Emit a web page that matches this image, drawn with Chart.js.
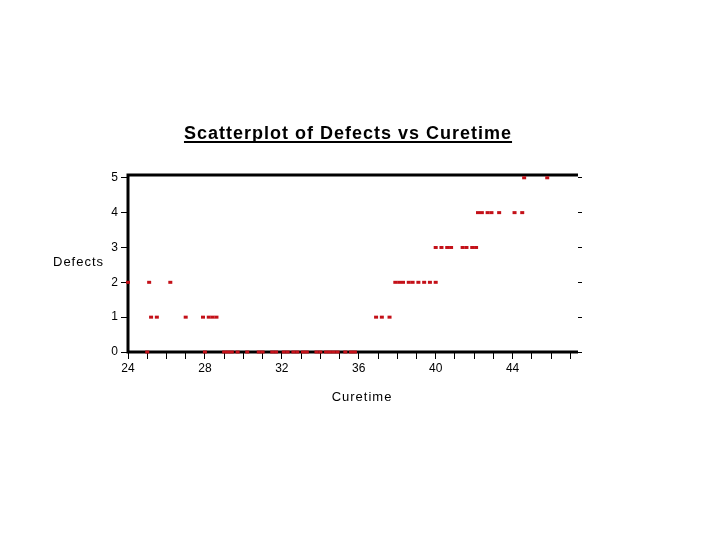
<!DOCTYPE html>
<html>
<head>
<meta charset="utf-8">
<script src="https://cdn.jsdelivr.net/npm/chart.js@4/dist/chart.umd.min.js"></script>
<style>
  html, body { margin: 0; padding: 0; background: #fff; }
</style>
</head>
<body>
<canvas id="scatter" width="720" height="540"></canvas>
<script>
// Cure time (x) and number of defects (y)
const curetime = [
    25.0, 28.0, 29.0, 29.2, 29.4, 29.7, 30.2, 30.8, 31.0, 31.5, 31.7, 32.1, 32.3,
    32.6, 32.8, 33.1, 33.3, 33.8, 34.0, 34.3, 34.5, 34.7, 34.9, 35.3, 35.6, 35.8,
    25.2, 25.5, 27.0, 27.9, 28.2, 28.4, 28.6, 36.9, 37.2, 37.6,
    24.0, 25.1, 26.2, 37.9, 38.1, 38.3, 38.6, 38.8, 39.1, 39.4, 39.7, 40.0,
    40.0, 40.3, 40.6, 40.8, 41.4, 41.6, 41.9, 42.1,
    42.2, 42.4, 42.7, 42.9, 43.3, 44.1, 44.5,
    44.6, 45.8
];
const defects = [
    0, 0, 0, 0, 0, 0, 0, 0, 0, 0, 0, 0, 0,
    0, 0, 0, 0, 0, 0, 0, 0, 0, 0, 0, 0, 0,
    1, 1, 1, 1, 1, 1, 1, 1, 1, 1,
    2, 2, 2, 2, 2, 2, 2, 2, 2, 2, 2, 2,
    3, 3, 3, 3, 3, 3, 3, 3,
    4, 4, 4, 4, 4, 4, 4,
    5, 5
];

const xTickMarks = [24, 25, 26, 27, 28, 29, 30, 31, 32, 33, 34, 35, 36, 37, 38, 39, 40, 41, 42, 43, 44, 45, 46, 47];
const xTickLabels = [24, 28, 32, 36, 40, 44];
const yTickLabels = [0, 1, 2, 3, 4, 5];

const chartTitle = 'Scatterplot of Defects vs Curetime';
const yLabel = 'Defects';
const xLabel = 'Curetime';

const tickFont = { family: '"Liberation Sans", Arial, sans-serif', size: 12 };

// Frame around the plot, drawn before the points so the red marks sit on top
const framePlugin = {
    id: 'frame',
    beforeDatasetsDraw(chart) {
        const { ctx, chartArea: a } = chart;
        ctx.save();
        ctx.strokeStyle = '#000';
        ctx.lineWidth = 3;
        ctx.beginPath();
        ctx.moveTo(a.right, a.top);
        ctx.lineTo(a.left, a.top);
        ctx.lineTo(a.left, a.bottom);
        ctx.lineTo(a.right, a.bottom);
        ctx.stroke();
        ctx.restore();
    }
};

// Underlined title plus the two axis labels
const labelsPlugin = {
    id: 'labels',
    afterDraw(chart) {
        const { ctx } = chart;
        ctx.save();
        ctx.fillStyle = '#000';
        ctx.font = 'bold 18px "Liberation Sans", Arial, sans-serif';
        ctx.letterSpacing = '1px';
        ctx.textAlign = 'center';
        ctx.textBaseline = 'alphabetic';
        const cx = 348;
        ctx.fillText(chartTitle, cx, 139);
        const w = ctx.measureText(chartTitle).width;
        ctx.fillRect(cx - w / 2, 141, w, 2);

        ctx.font = '13px "Liberation Sans", Arial, sans-serif';
        ctx.textBaseline = 'middle';
        ctx.fillText(xLabel, 362, 397);
        ctx.textAlign = 'left';
        ctx.fillText(yLabel, 53, 262);
        ctx.restore();
    }
};

const gridOpts = {
    drawOnChartArea: false,
    drawTicks: true,
    tickLength: 7,
    tickColor: '#000',
    tickWidth: 1
};

const ctx = document.getElementById('scatter').getContext('2d');
new Chart(ctx, {
    type: 'scatter',
    data: {
        datasets: [{
            data: curetime.map((x, i) => ({ x: x, y: defects[i] })),
            pointStyle: 'line',
            pointRadius: 2,
            borderWidth: 3,
            borderColor: '#c41018',
            backgroundColor: '#c41018',
            clip: false
        }]
    },
    options: {
        responsive: false,
        animation: false,
        layout: { padding: { left: 88, right: 134, top: 175, bottom: 135 } },
        plugins: {
            legend: { display: false },
            tooltip: { enabled: false }
        },
        scales: {
            x: {
                type: 'linear',
                min: 24,
                max: 47.4,
                afterBuildTicks: axis => { axis.ticks = xTickMarks.map(v => ({ value: v })); },
                afterFit: axis => { axis.height = 53; },
                ticks: {
                    autoSkip: false,
                    maxRotation: 0,
                    padding: 2,
                    color: '#000',
                    font: tickFont,
                    callback: v => xTickLabels.includes(v) ? String(v) : ''
                },
                grid: gridOpts,
                border: { display: false }
            },
            y: {
                type: 'linear',
                position: 'left',
                min: 0,
                max: 5.08,
                afterBuildTicks: axis => { axis.ticks = yTickLabels.map(v => ({ value: v })); },
                afterFit: axis => { axis.width = 40; },
                ticks: { padding: 3, color: '#000', font: tickFont },
                grid: gridOpts,
                border: { display: false }
            },
            y2: {
                type: 'linear',
                position: 'right',
                min: 0,
                max: 5.08,
                afterBuildTicks: axis => { axis.ticks = yTickLabels.map(v => ({ value: v })); },
                afterFit: axis => { axis.width = 8; },
                ticks: { display: false },
                grid: Object.assign({}, gridOpts, { tickLength: 4 }),
                border: { display: false }
            }
        }
    },
    plugins: [framePlugin, labelsPlugin]
});
</script>
</body>
</html>
